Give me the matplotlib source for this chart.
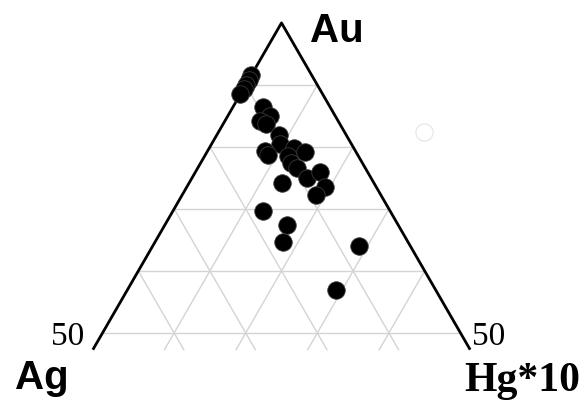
import matplotlib
matplotlib.use('Agg')
import matplotlib.pyplot as plt
import numpy as np

# Ternary composition of each grain (percent): Au, Hg*10, Ag is the rest
au = [91.6, 90.8, 90.0, 89.4, 88.5, 86.5, 85.0, 84.2, 83.7, 81.9,
      80.5, 79.4, 78.7, 79.8, 79.2, 78.6, 77.4, 76.6, 74.2, 75.0,
      76.0, 73.6, 72.3, 69.7, 67.4, 64.7, 64.0, 56.9]
hg10 = [0.0, 0.0, 0.0, 0.0, 0.0, 4.1, 5.9, 4.9, 6.0, 8.7,
        9.6, 8.0, 8.8, 11.9, 13.7, 11.6, 12.6, 13.9, 13.0, 16.1,
        17.4, 19.3, 18.6, 12.6, 17.1, 17.9, 28.8, 29.1]

# faint stray symbol outside the triangle
stray_au = [82.4]
stray_hg10 = [28.7]

grid_levels = [10, 20, 30, 40]
au_levels = [50, 60, 70, 80, 90]
au_min = 47.3   # diagram is cut off just below the 50 % Au line

SQ = np.sqrt(3) / 2


def to_xy(a, h):
    # Ag at the left corner, Hg*10 at the right, Au on top
    a = np.asarray(a, dtype=float)
    h = np.asarray(h, dtype=float)
    return h + a / 2, a * SQ


fig = plt.figure(figsize=(5.84, 4.03), dpi=100)
ax = fig.add_axes([0, 0, 1, 1])
ax.set_xlim(10.68, 92.25)
ax.set_ylim(33.52, 89.8)
ax.axis('off')

grid_kw = dict(color='#d4d4d4', lw=1.0, zorder=1)

# horizontal Au lines
for a in au_levels:
    x, y = to_xy([a, a], [0, 100 - a])
    ax.plot(x, y, **grid_kw)

# constant Ag lines (start on the left edge) and constant Hg lines (right edge)
for g in grid_levels:
    x, y = to_xy([100 - g, au_min], [0, 100 - g - au_min])
    ax.plot(x, y, **grid_kw)
    x, y = to_xy([100 - g, au_min], [g, g])
    ax.plot(x, y, **grid_kw)

# triangle edges
x, y = to_xy([au_min, 100, au_min], [0, 0, 100 - au_min])
ax.plot(x, y, color='black', lw=2.0, zorder=2, solid_capstyle='butt')

# data
x, y = to_xy(au, hg10)
ax.plot(x, y, 'o', ms=12.6, mfc='black', mec='#3a3a3a', mew=0.6, zorder=3)

x, y = to_xy(stray_au, stray_hg10)
ax.plot(x, y, 'o', ms=12.4, mfc='none', mec='#e4e4e4', mew=0.8, zorder=3)

# labels
ax.text(0.531, 0.895, 'Au', transform=ax.transAxes, fontsize=29,
        fontweight='bold', family='Liberation Sans', ha='left', va='baseline')
ax.text(0.025, 0.035, 'Ag', transform=ax.transAxes, fontsize=29,
        fontweight='bold', family='Liberation Sans', ha='left', va='baseline')
ax.text(0.993, 0.03, 'Hg*10', transform=ax.transAxes, fontsize=30,
        fontweight='bold', family='Liberation Serif', ha='right', va='baseline')
ax.text(0.088, 0.145, '50', transform=ax.transAxes, fontsize=24,
        family='Liberation Serif', ha='left', va='baseline')
ax.text(0.808, 0.145, '50', transform=ax.transAxes, fontsize=24,
        family='Liberation Serif', ha='left', va='baseline')

fig.savefig('out.png', dpi=100, facecolor='white')
